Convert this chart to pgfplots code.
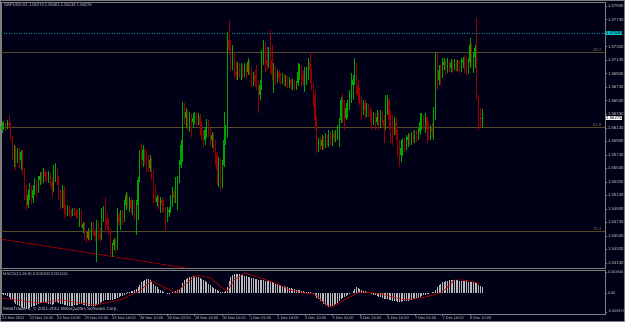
\documentclass[border=0pt]{standalone}
\usepackage{fontspec}
\setmainfont{Liberation Sans}
\usepackage{pgfplots}
\usepackage{pgfplotstable}
\pgfplotsset{compat=1.18}
\definecolor{bg}{RGB}{0,0,22}
\definecolor{frm}{RGB}{125,125,125}
\definecolor{bull}{RGB}{0,165,0}
\definecolor{bear}{RGB}{150,0,0}
\definecolor{fib}{RGB}{85,75,40}
\definecolor{fibtxt}{RGB}{120,110,80}
\definecolor{txt}{RGB}{200,200,200}
\definecolor{askc}{RGB}{0,150,150}
\definecolor{askbox}{RGB}{0,200,210}
\definecolor{hist}{RGB}{185,185,185}
\definecolor{sig}{RGB}{200,0,0}
\definecolor{trend}{RGB}{170,0,0}

\pgfplotstableread{
i o h l c
0 1.5610 1.5621 1.5605 1.5615
1 1.5614 1.5623 1.5610 1.5618
2 1.5617 1.5620 1.5608 1.5614
3 1.5614 1.5624 1.5611 1.5620
4 1.5620 1.5632 1.5613 1.5617
5 1.5617 1.5621 1.5593 1.5598
6 1.5598 1.5601 1.5565 1.5580
7 1.5573 1.5587 1.5555 1.5583
8 1.5583 1.5586 1.5550 1.5568
9 1.5568 1.5583 1.5561 1.5580
10 1.5580 1.5584 1.5553 1.5565
11 1.5565 1.5580 1.5550 1.5577
12 1.5577 1.5580 1.5543 1.5550
13 1.5550 1.5553 1.5506 1.5513
14 1.5513 1.5528 1.5491 1.5499
15 1.5499 1.5521 1.5494 1.5513
16 1.5513 1.5531 1.5506 1.5524
17 1.5524 1.5528 1.5499 1.5509
18 1.5509 1.5528 1.5502 1.5521
19 1.5521 1.5539 1.5513 1.5531
20 1.5531 1.5536 1.5510 1.5521
21 1.5521 1.5542 1.5516 1.5536
22 1.5536 1.5547 1.5528 1.5542
23 1.5542 1.5547 1.5530 1.5536
24 1.5536 1.5553 1.5531 1.5547
25 1.5547 1.5550 1.5534 1.5542
26 1.5542 1.5547 1.5533 1.5536
27 1.5536 1.5549 1.5531 1.5543
28 1.5543 1.5546 1.5527 1.5533
29 1.5533 1.5539 1.5510 1.5521
30 1.5521 1.5558 1.5518 1.5539
31 1.5539 1.5561 1.5533 1.5550
32 1.5550 1.5553 1.5528 1.5536
33 1.5536 1.5542 1.5506 1.5513
34 1.5513 1.5521 1.5491 1.5499
35 1.5499 1.5528 1.5494 1.5521
36 1.5521 1.5527 1.5484 1.5494
37 1.5494 1.5500 1.5479 1.5488
38 1.5488 1.5499 1.5482 1.5494
39 1.5494 1.5497 1.5481 1.5488
40 1.5488 1.5493 1.5481 1.5487
41 1.5487 1.5494 1.5482 1.5491
42 1.5491 1.5494 1.5482 1.5487
43 1.5487 1.5491 1.5479 1.5484
44 1.5484 1.5493 1.5478 1.5482
45 1.5482 1.5494 1.5466 1.5488
46 1.5488 1.5491 1.5465 1.5469
47 1.5465 1.5473 1.5457 1.5470
48 1.5470 1.5473 1.5447 1.5454
49 1.5454 1.5462 1.5442 1.5450
50 1.5450 1.5465 1.5447 1.5459
51 1.5459 1.5462 1.5444 1.5451
52 1.5451 1.5473 1.5447 1.5469
53 1.5469 1.5473 1.5453 1.5459
54 1.5459 1.5463 1.5445 1.5453
55 1.5453 1.5476 1.5414 1.5473
56 1.5473 1.5475 1.5447 1.5454
57 1.5454 1.5465 1.5444 1.5450
58 1.5450 1.5494 1.5447 1.5484
59 1.5484 1.5497 1.5473 1.5491
60 1.5491 1.5510 1.5457 1.5476
61 1.5476 1.5487 1.5462 1.5469
62 1.5469 1.5479 1.5454 1.5462
63 1.5462 1.5465 1.5425 1.5432
64 1.5432 1.5442 1.5422 1.5439
65 1.5439 1.5450 1.5432 1.5447
66 1.5447 1.5450 1.5428 1.5435
67 1.5435 1.5494 1.5432 1.5484
68 1.5484 1.5488 1.5467 1.5473
69 1.5473 1.5491 1.5462 1.5488
70 1.5488 1.5491 1.5469 1.5476
71 1.5476 1.5506 1.5473 1.5499
72 1.5499 1.5518 1.5491 1.5513
73 1.5513 1.5516 1.5494 1.5499
74 1.5499 1.5510 1.5488 1.5506
75 1.5506 1.5509 1.5487 1.5494
76 1.5494 1.5506 1.5484 1.5502
77 1.5502 1.5506 1.5476 1.5491
78 1.5491 1.5506 1.5454 1.5499
79 1.5499 1.5540 1.5476 1.5536
80 1.5536 1.5580 1.5533 1.5573
81 1.5573 1.5590 1.5558 1.5565
82 1.5565 1.5587 1.5555 1.5580
83 1.5580 1.5583 1.5558 1.5568
84 1.5568 1.5580 1.5547 1.5558
85 1.5558 1.5573 1.5547 1.5553
86 1.5553 1.5573 1.5547 1.5565
87 1.5565 1.5568 1.5536 1.5543
88 1.5543 1.5550 1.5502 1.5521
89 1.5521 1.5528 1.5502 1.5509
90 1.5503 1.5513 1.5497 1.5510
91 1.5510 1.5513 1.5491 1.5499
92 1.5499 1.5510 1.5487 1.5506
93 1.5506 1.5509 1.5488 1.5499
94 1.5499 1.5506 1.5487 1.5491
95 1.5491 1.5496 1.5462 1.5479
96 1.5479 1.5496 1.5473 1.5488
97 1.5488 1.5496 1.5481 1.5491
98 1.5491 1.5513 1.5487 1.5506
99 1.5506 1.5525 1.5496 1.5518
100 1.5518 1.5521 1.5502 1.5509
101 1.5509 1.5540 1.5502 1.5528
102 1.5528 1.5542 1.5491 1.5539
103 1.5539 1.5565 1.5531 1.5558
104 1.5558 1.5595 1.5553 1.5587
105 1.5587 1.5651 1.5562 1.5647
106 1.5647 1.5650 1.5617 1.5627
107 1.5627 1.5642 1.5613 1.5636
108 1.5636 1.5639 1.5610 1.5617
109 1.5617 1.5636 1.5607 1.5632
110 1.5632 1.5635 1.5599 1.5621
111 1.5621 1.5635 1.5613 1.5627
112 1.5627 1.5636 1.5618 1.5633
113 1.5633 1.5636 1.5615 1.5624
114 1.5624 1.5635 1.5617 1.5630
115 1.5630 1.5633 1.5602 1.5617
116 1.5617 1.5621 1.5595 1.5602
117 1.5602 1.5610 1.5584 1.5595
118 1.5595 1.5614 1.5587 1.5610
119 1.5610 1.5626 1.5598 1.5621
120 1.5621 1.5624 1.5599 1.5610
121 1.5610 1.5613 1.5586 1.5595
122 1.5595 1.5607 1.5583 1.5602
123 1.5602 1.5605 1.5576 1.5587
124 1.5587 1.5595 1.5558 1.5573
125 1.5573 1.5577 1.5528 1.5550
126 1.5550 1.5570 1.5525 1.5565
127 1.5565 1.5568 1.5521 1.5539
128 1.5539 1.5565 1.5524 1.5558
129 1.5558 1.5636 1.5555 1.5595
130 1.5595 1.5617 1.5587 1.5610
131 1.5610 1.5755 1.5598 1.5743
132 1.5743 1.5772 1.5721 1.5728
133 1.5728 1.5743 1.5698 1.5710
134 1.5706 1.5735 1.5698 1.5721
135 1.5721 1.5725 1.5687 1.5695
136 1.5695 1.5710 1.5684 1.5691
137 1.5691 1.5710 1.5684 1.5706
138 1.5706 1.5709 1.5687 1.5695
139 1.5695 1.5709 1.5684 1.5701
140 1.5701 1.5706 1.5687 1.5694
141 1.5694 1.5709 1.5688 1.5704
142 1.5704 1.5707 1.5685 1.5695
143 1.5695 1.5716 1.5691 1.5710
144 1.5710 1.5713 1.5691 1.5698
145 1.5698 1.5703 1.5673 1.5684
146 1.5684 1.5695 1.5675 1.5691
147 1.5691 1.5698 1.5673 1.5681
148 1.5687 1.5706 1.5669 1.5676
149 1.5676 1.5684 1.5635 1.5661
150 1.5661 1.5684 1.5654 1.5676
151 1.5676 1.5728 1.5669 1.5721
152 1.5721 1.5743 1.5706 1.5735
153 1.5735 1.5740 1.5695 1.5713
154 1.5713 1.5732 1.5698 1.5706
155 1.5706 1.5732 1.5701 1.5721
156 1.5721 1.5758 1.5694 1.5713
157 1.5713 1.5735 1.5684 1.5691
158 1.5684 1.5709 1.5664 1.5701
159 1.5701 1.5704 1.5676 1.5687
160 1.5687 1.5698 1.5679 1.5695
161 1.5695 1.5698 1.5681 1.5687
162 1.5687 1.5694 1.5678 1.5684
163 1.5684 1.5694 1.5678 1.5690
164 1.5690 1.5692 1.5673 1.5681
165 1.5681 1.5691 1.5675 1.5687
166 1.5687 1.5690 1.5672 1.5678
167 1.5678 1.5688 1.5672 1.5684
168 1.5684 1.5687 1.5669 1.5676
169 1.5676 1.5685 1.5669 1.5681
170 1.5681 1.5684 1.5669 1.5673
171 1.5673 1.5682 1.5669 1.5679
172 1.5679 1.5709 1.5675 1.5695
173 1.5695 1.5707 1.5684 1.5701
174 1.5701 1.5706 1.5673 1.5691
175 1.5691 1.5698 1.5676 1.5684
176 1.5684 1.5703 1.5666 1.5691
177 1.5691 1.5703 1.5676 1.5698
178 1.5698 1.5716 1.5684 1.5710
179 1.5710 1.5725 1.5679 1.5698
180 1.5698 1.5701 1.5669 1.5676
181 1.5676 1.5679 1.5644 1.5661
182 1.5661 1.5669 1.5610 1.5624
183 1.5624 1.5632 1.5576 1.5595
184 1.5583 1.5598 1.5577 1.5595
185 1.5595 1.5599 1.5580 1.5586
186 1.5586 1.5602 1.5580 1.5595
187 1.5595 1.5601 1.5580 1.5587
188 1.5587 1.5605 1.5583 1.5598
189 1.5598 1.5602 1.5584 1.5590
190 1.5590 1.5610 1.5584 1.5602
191 1.5602 1.5607 1.5587 1.5595
192 1.5595 1.5610 1.5586 1.5604
193 1.5604 1.5608 1.5590 1.5598
194 1.5598 1.5610 1.5592 1.5605
195 1.5605 1.5617 1.5595 1.5613
196 1.5613 1.5627 1.5584 1.5624
197 1.5624 1.5658 1.5620 1.5654
198 1.5654 1.5664 1.5620 1.5639
199 1.5639 1.5654 1.5610 1.5627
200 1.5627 1.5650 1.5624 1.5642
201 1.5642 1.5654 1.5627 1.5648
202 1.5648 1.5669 1.5639 1.5661
203 1.5661 1.5694 1.5650 1.5676
204 1.5676 1.5691 1.5654 1.5684
205 1.5684 1.5716 1.5676 1.5698
206 1.5698 1.5709 1.5661 1.5676
207 1.5676 1.5684 1.5650 1.5661
208 1.5661 1.5672 1.5647 1.5654
209 1.5654 1.5658 1.5624 1.5642
210 1.5642 1.5654 1.5632 1.5650
211 1.5650 1.5654 1.5627 1.5639
212 1.5639 1.5650 1.5629 1.5645
213 1.5645 1.5648 1.5629 1.5636
214 1.5636 1.5644 1.5621 1.5632
215 1.5632 1.5639 1.5610 1.5624
216 1.5624 1.5636 1.5617 1.5632
217 1.5632 1.5635 1.5610 1.5621
218 1.5621 1.5639 1.5617 1.5629
219 1.5629 1.5635 1.5610 1.5617
220 1.5617 1.5639 1.5613 1.5635
221 1.5635 1.5639 1.5617 1.5624
222 1.5624 1.5632 1.5590 1.5613
223 1.5613 1.5661 1.5610 1.5647
224 1.5647 1.5661 1.5632 1.5654
225 1.5654 1.5657 1.5610 1.5624
226 1.5624 1.5639 1.5590 1.5613
227 1.5613 1.5632 1.5587 1.5607
228 1.5607 1.5629 1.5602 1.5621
229 1.5621 1.5627 1.5595 1.5602
230 1.5602 1.5610 1.5570 1.5587
231 1.5587 1.5595 1.5555 1.5573
232 1.5573 1.5595 1.5562 1.5583
233 1.5583 1.5598 1.5571 1.5592
234 1.5592 1.5598 1.5577 1.5586
235 1.5586 1.5602 1.5580 1.5595
236 1.5595 1.5605 1.5584 1.5599
237 1.5599 1.5604 1.5586 1.5592
238 1.5592 1.5607 1.5587 1.5601
239 1.5601 1.5608 1.5590 1.5595
240 1.5595 1.5610 1.5590 1.5602
241 1.5602 1.5610 1.5592 1.5598
242 1.5598 1.5613 1.5595 1.5607
243 1.5607 1.5635 1.5602 1.5621
244 1.5621 1.5635 1.5610 1.5627
245 1.5627 1.5632 1.5610 1.5617
246 1.5617 1.5635 1.5605 1.5627
247 1.5627 1.5630 1.5590 1.5610
248 1.5610 1.5621 1.5595 1.5602
249 1.5602 1.5617 1.5595 1.5613
250 1.5613 1.5620 1.5599 1.5607
251 1.5607 1.5644 1.5595 1.5632
252 1.5632 1.5724 1.5624 1.5706
253 1.5706 1.5724 1.5669 1.5684
254 1.5684 1.5706 1.5676 1.5698
255 1.5698 1.5706 1.5676 1.5690
256 1.5690 1.5716 1.5687 1.5706
257 1.5706 1.5716 1.5698 1.5710
258 1.5710 1.5713 1.5691 1.5698
259 1.5698 1.5716 1.5694 1.5707
260 1.5707 1.5713 1.5695 1.5701
261 1.5701 1.5715 1.5695 1.5709
262 1.5709 1.5713 1.5694 1.5703
263 1.5703 1.5715 1.5698 1.5710
264 1.5710 1.5713 1.5695 1.5704
265 1.5704 1.5713 1.5697 1.5709
266 1.5709 1.5713 1.5694 1.5703
267 1.5703 1.5716 1.5695 1.5710
268 1.5710 1.5718 1.5701 1.5713
269 1.5713 1.5721 1.5694 1.5701
270 1.5701 1.5718 1.5691 1.5698
271 1.5698 1.5716 1.5692 1.5710
272 1.5710 1.5746 1.5701 1.5735
273 1.5735 1.5738 1.5703 1.5713
274 1.5713 1.5724 1.5694 1.5718
275 1.5718 1.5735 1.5701 1.5731
276 1.5731 1.5776 1.5654 1.5657
277 1.5657 1.5661 1.5610 1.5639
278 1.5639 1.5642 1.5614 1.5621
279 1.5627 1.5640 1.5614 1.5628
}\candles

\pgfplotstableread{
i m
0 -0.0002
1 -0.0003
2 -0.0004
3 -0.0006
4 -0.0008
5 -0.0011
6 -0.0014
7 -0.0017
8 -0.0020
9 -0.0023
10 -0.0025
11 -0.0027
12 -0.0028
13 -0.0029
14 -0.0030
15 -0.0030
16 -0.0029
17 -0.0027
18 -0.0025
19 -0.0024
20 -0.0022
21 -0.0020
22 -0.0019
23 -0.0019
24 -0.0018
25 -0.0018
26 -0.0019
27 -0.0020
28 -0.0021
29 -0.0022
30 -0.0020
31 -0.0018
32 -0.0017
33 -0.0019
34 -0.0020
35 -0.0021
36 -0.0022
37 -0.0023
38 -0.0024
39 -0.0024
40 -0.0024
41 -0.0024
42 -0.0023
43 -0.0023
44 -0.0022
45 -0.0021
46 -0.0021
47 -0.0022
48 -0.0023
49 -0.0024
50 -0.0025
51 -0.0025
52 -0.0024
53 -0.0024
54 -0.0024
55 -0.0022
56 -0.0021
57 -0.0019
58 -0.0017
59 -0.0015
60 -0.0014
61 -0.0013
62 -0.0013
63 -0.0014
64 -0.0013
65 -0.0012
66 -0.0011
67 -0.0009
68 -0.0008
69 -0.0006
70 -0.0005
71 -0.0003
72 -0.0001
73 0.0001
74 0.0002
75 0.0003
76 0.0004
77 0.0005
78 0.0007
79 0.0011
80 0.0016
81 0.0020
82 0.0023
83 0.0025
84 0.0026
85 0.0026
86 0.0024
87 0.0021
88 0.0018
89 0.0014
90 0.0011
91 0.0008
92 0.0006
93 0.0004
94 0.0002
95 0.0000
96 -0.0001
97 -0.0001
98 0.0000
99 0.0001
100 0.0002
101 0.0003
102 0.0005
103 0.0008
104 0.0012
105 0.0019
106 0.0024
107 0.0027
108 0.0029
109 0.0030
110 0.0031
111 0.0032
112 0.0032
113 0.0031
114 0.0030
115 0.0028
116 0.0026
117 0.0024
118 0.0022
119 0.0020
120 0.0018
121 0.0015
122 0.0012
123 0.0010
124 0.0007
125 0.0005
126 0.0003
127 0.0002
128 0.0001
129 0.0002
130 0.0004
131 0.0012
132 0.0022
133 0.0030
134 0.0034
135 0.0036
136 0.0037
137 0.0037
138 0.0036
139 0.0035
140 0.0034
141 0.0033
142 0.0032
143 0.0031
144 0.0030
145 0.0029
146 0.0028
147 0.0027
148 0.0026
149 0.0025
150 0.0024
151 0.0024
152 0.0024
153 0.0023
154 0.0022
155 0.0022
156 0.0021
157 0.0020
158 0.0019
159 0.0018
160 0.0017
161 0.0016
162 0.0015
163 0.0014
164 0.0013
165 0.0012
166 0.0011
167 0.0010
168 0.0009
169 0.0008
170 0.0007
171 0.0006
172 0.0006
173 0.0005
174 0.0004
175 0.0003
176 0.0002
177 0.0002
178 0.0001
179 0.0001
180 0.0000
181 -0.0002
182 -0.0005
183 -0.0009
184 -0.0012
185 -0.0015
186 -0.0018
187 -0.0021
188 -0.0023
189 -0.0025
190 -0.0026
191 -0.0026
192 -0.0025
193 -0.0023
194 -0.0021
195 -0.0019
196 -0.0016
197 -0.0012
198 -0.0009
199 -0.0007
200 -0.0005
201 -0.0004
202 -0.0002
203 0.0000
204 0.0003
205 0.0007
206 0.0011
207 0.0010
208 0.0008
209 0.0006
210 0.0004
211 0.0003
212 0.0002
213 0.0001
214 0.0000
215 -0.0001
216 -0.0003
217 -0.0004
218 -0.0006
219 -0.0007
220 -0.0008
221 -0.0009
222 -0.0011
223 -0.0012
224 -0.0012
225 -0.0013
226 -0.0014
227 -0.0015
228 -0.0016
229 -0.0016
230 -0.0017
231 -0.0017
232 -0.0017
233 -0.0016
234 -0.0016
235 -0.0015
236 -0.0015
237 -0.0014
238 -0.0013
239 -0.0012
240 -0.0011
241 -0.0010
242 -0.0009
243 -0.0007
244 -0.0005
245 -0.0004
246 -0.0003
247 -0.0002
248 -0.0001
249 0.0000
250 0.0001
251 0.0002
252 0.0006
253 0.0011
254 0.0015
255 0.0018
256 0.0020
257 0.0021
258 0.0022
259 0.0023
260 0.0024
261 0.0024
262 0.0024
263 0.0024
264 0.0024
265 0.0024
266 0.0023
267 0.0023
268 0.0023
269 0.0022
270 0.0022
271 0.0021
272 0.0021
273 0.0021
274 0.0020
275 0.0020
276 0.0019
277 0.0016
278 0.0013
279 0.0011
}\macd

\pgfplotsset{
  mtaxis/.style={
    scale only axis, width=603.5pt, xmin=-0.3, xmax=350.6,
    axis line style={frm}, tick style={frm, line width=0.4pt},
    tick align=outside, major tick length=2pt,
    ytick pos=right, yticklabel pos=right,
    scaled y ticks=false, clip=false,
    /pgf/number format/assume math mode=true,
    ticklabel style={txt, font=\fontsize{4.3}{5}\selectfont, inner sep=0.5pt},
    yticklabel style={anchor=west, xshift=0.3pt},
  },
  candle/.style 2 args={draw=none, mark=none, mark size=0pt, forget plot,
    error bars/y dir=plus, error bars/y explicit, error bars/error mark=none,
    error bars/error bar style={solid, draw=#1, line width=#2}},
}

\begin{document}
\begin{tikzpicture}[font=\fontsize{4.3}{5}\selectfont]
\fill[bg] (0,0) rectangle (625pt,322pt);
\useasboundingbox (0,0) rectangle (625pt,322pt);
\draw[frm, line width=0.8pt] (0.4pt,0.4pt) rectangle (624.6pt,321.6pt);

% ---------------- price panel ----------------
\begin{axis}[mtaxis,
  at={(1.5pt,54pt)}, anchor=south west, height=266pt,
  ymin=1.54054, ymax=1.57990,
  xtick=\empty,
  ytick={1.5413,1.5433,1.5453,1.5473,1.5493,1.5513,1.5533,1.5553,1.5573,1.5593,1.5613,1.5633,1.5653,1.5673,1.5693,1.5713,1.5733,1.5773,1.5793},
  yticklabel={\pgfmathprintnumber[fixed,fixed zerofill,precision=5]{\tick}},
]
% fibonacci levels
\addplot[fib, line width=0.8pt, forget plot] coordinates {(-0.3,1.5724) (350.6,1.5724)};
\addplot[fib, line width=0.8pt, forget plot] coordinates {(-0.3,1.5613) (350.6,1.5613)};
\addplot[fib, line width=0.8pt, forget plot] coordinates {(-0.3,1.5459) (350.6,1.5459)};
% ask line
\addplot[askc, line width=0.6pt, dash pattern=on 1pt off 1.5pt, forget plot] coordinates {(-0.3,1.5753) (350.6,1.5753)};
% trend line
\addplot[trend, line width=0.7pt, forget plot] coordinates {(-0.3,1.5448) (107,1.54054)};
% candles: wicks
\addplot[candle={bull}{0.6pt}, restrict expr to domain={\thisrow{c}-\thisrow{o}}{0:1}]
  table[x=i, y=l, y error plus expr=\thisrow{h}-\thisrow{l}] {\candles};
\addplot[candle={bear}{0.6pt}, restrict expr to domain={\thisrow{o}-\thisrow{c}}{0.00001:1}]
  table[x=i, y=l, y error plus expr=\thisrow{h}-\thisrow{l}] {\candles};
% candles: bodies
\addplot[candle={bull}{1.1pt}, restrict expr to domain={\thisrow{c}-\thisrow{o}}{0:1}]
  table[x=i, y=o, y error plus expr=\thisrow{c}-\thisrow{o}] {\candles};
\addplot[candle={bear}{1.1pt}, restrict expr to domain={\thisrow{o}-\thisrow{c}}{0.00001:1}]
  table[x=i, y=c, y error plus expr=\thisrow{o}-\thisrow{c}] {\candles};
% level labels
\node[anchor=south east, fibtxt, inner sep=0.6pt] at (axis cs:349,1.5724) {38.2};
\node[anchor=south east, fibtxt, inner sep=0.6pt] at (axis cs:349,1.5613) {61.8};
\node[anchor=south east, fibtxt, inner sep=0.6pt] at (axis cs:349,1.5459) {76.4};
\node[anchor=west, fill=askbox, text=black, inner sep=0.5pt, xshift=0.5pt] at (axis cs:350.6,1.5753) {1.57530};
\node[anchor=west, fill=white, text=black, inner sep=0.5pt, xshift=0.5pt] at (axis cs:350.6,1.56278) {1.56278};
\end{axis}

% ---------------- MACD panel ----------------
\begin{axis}[mtaxis,
  at={(1.5pt,8pt)}, anchor=south west, height=44pt,
  ymin=-0.00399, ymax=0.00437,
  ytick={-0.003557,0,0.003946},
  yticklabels={-0.003557,0.00,0.003946},
  yticklabel style={font=\fontsize{3.7}{4.5}\selectfont},
  xtick={0,16,...,272},
  xticklabels={23 Nov 2011,23 Nov 18:00,24 Nov 10:00,25 Nov 02:00,25 Nov 18:00,28 Nov 10:00,29 Nov 02:00,29 Nov 18:00,30 Nov 10:00,1 Dec 02:00,1 Dec 18:00,2 Dec 10:00,5 Dec 02:00,5 Dec 18:00,6 Dec 10:00,7 Dec 02:00,7 Dec 18:00,8 Dec 10:00},
  xtick pos=bottom,
  xticklabel style={font=\fontsize{3.9}{5}\selectfont, anchor=north west, xshift=-0.3pt, yshift=0pt},
]
\addplot[candle={hist}{0.6pt}]
  table[x=i, y expr={min(\thisrow{m},0)}, y error plus expr={abs(\thisrow{m})}] {\macd};
\addplot[sig, line width=0.6pt, mark=none] coordinates {
(0,-0.0010) (22,-0.0019) (34,-0.0013) (54,-0.0023) (69,-0.0013) (80,0.0004)
(87,0.0023) (92,0.0015) (101,0.0000) (106,0.0015) (113,0.0034) (121,0.0029)
(128,0.0010) (131,0.0004) (135,0.0025) (141,0.0038) (150,0.0029) (159,0.0019)
(167,0.0006) (176,0.0000) (182,-0.0002) (188,-0.0021) (192,-0.0027) (199,-0.0013)
(208,0.0002) (217,0.0000) (223,-0.0004) (234,-0.0013) (246,-0.0008) (255,0.0000)
(259,0.0011) (263,0.0025) (266,0.0025) (272,0.0023) (278,0.0017)};
\end{axis}

\node[anchor=north west, txt, inner sep=0pt, font=\fontsize{4.1}{5}\selectfont] at (4pt,319pt) {GBPUSD,H1\ 1.56274 1.56401 1.56138 1.56278};
\node[anchor=north west, txt, inner sep=0pt, font=\fontsize{4.1}{5}\selectfont] at (3pt,50pt) {MACD(12,26,9) 0.000100 0.001341};
\node[anchor=south west, txt, inner sep=0pt, font=\fontsize{4.6}{5}\selectfont] at (3pt,10pt) {MetaTrader 4, \textcopyright\ 2001-2011 MetaQuotes Software Corp.};
\end{tikzpicture}
\end{document}
